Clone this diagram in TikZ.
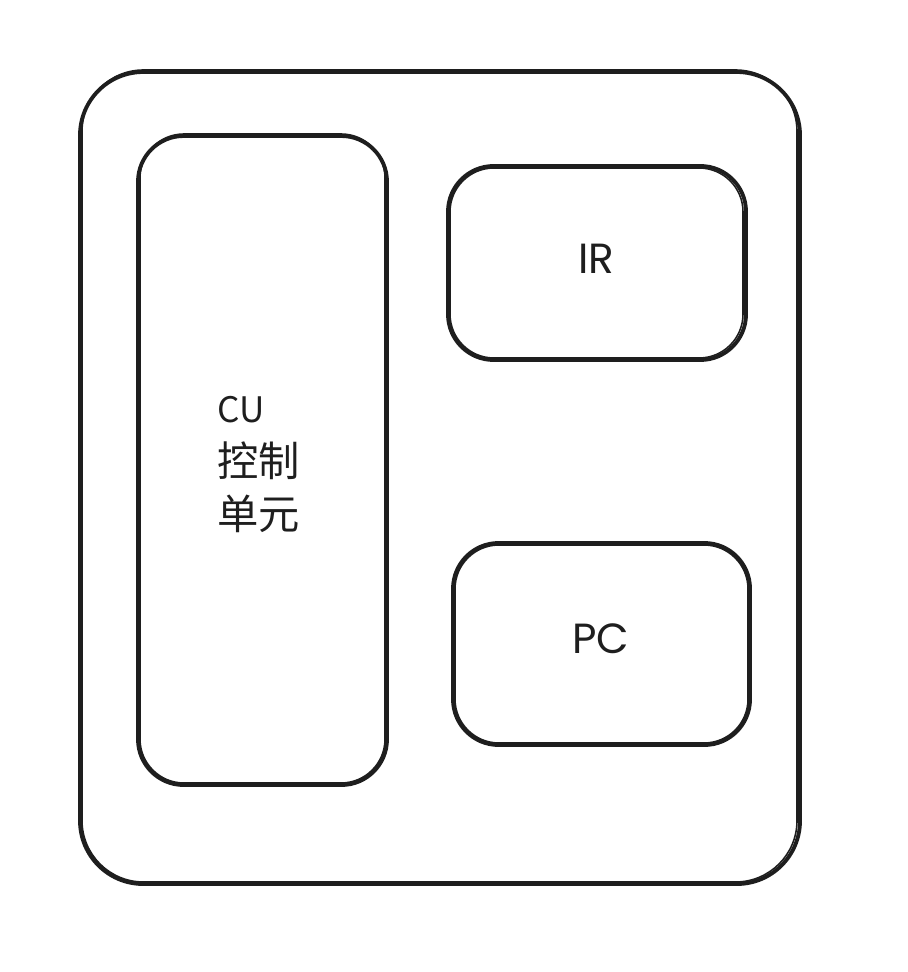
\documentclass[tikz,border=0pt]{standalone}
\usepackage{fontspec}
\setmainfont{Noto Sans CJK SC}
\newfontfamily\cjk{Noto Sans CJK SC}
\newfontfamily\latinfont{Poppins}
\definecolor{ink}{HTML}{1E1E1E}
\begin{document}
\begin{tikzpicture}[x=0.02cm,y=-0.02cm,
  sketch/.style={draw=ink,line width=2.2pt,line join=round,line cap=round},
  sketchb/.style={draw=ink,line width=0.9pt},
  lbl/.style={text=ink,font=\fontsize{23.5}{30.5}\selectfont\cjk,inner sep=0pt},
  lat/.style={text=ink,font=\fontsize{24}{30}\selectfont\latinfont,inner sep=0pt}]
\useasboundingbox (0,0) rectangle (907,972);
% outer
\draw[sketch,rounded corners=36pt] (80,72) rectangle (800,884);
\draw[sketchb,rounded corners=35pt] (82,70) rectangle (797,882);
% CU
\draw[sketch,rounded corners=26pt] (138,136) rectangle (387,785);
\draw[sketchb,rounded corners=25pt] (140,134) rectangle (385,783);
% IR
\draw[sketch,rounded corners=26pt] (448,166) rectangle (746,360);
\draw[sketchb,rounded corners=25pt] (450,168) rectangle (743,358);
% PC
\draw[sketch,rounded corners=26pt] (453,543) rectangle (750,745);
\draw[sketchb,rounded corners=25pt] (455,545) rectangle (748,743);
\node[lbl,anchor=north west,align=left] (cu) at (217,396) {{\fontsize{20}{30.5}\selectfont CU}\\控制\\单元};
\node[lat] (ir) at (596,259) {IR};
\node[lat] (pc) at (601,639) {PC};
\end{tikzpicture}
\end{document}
